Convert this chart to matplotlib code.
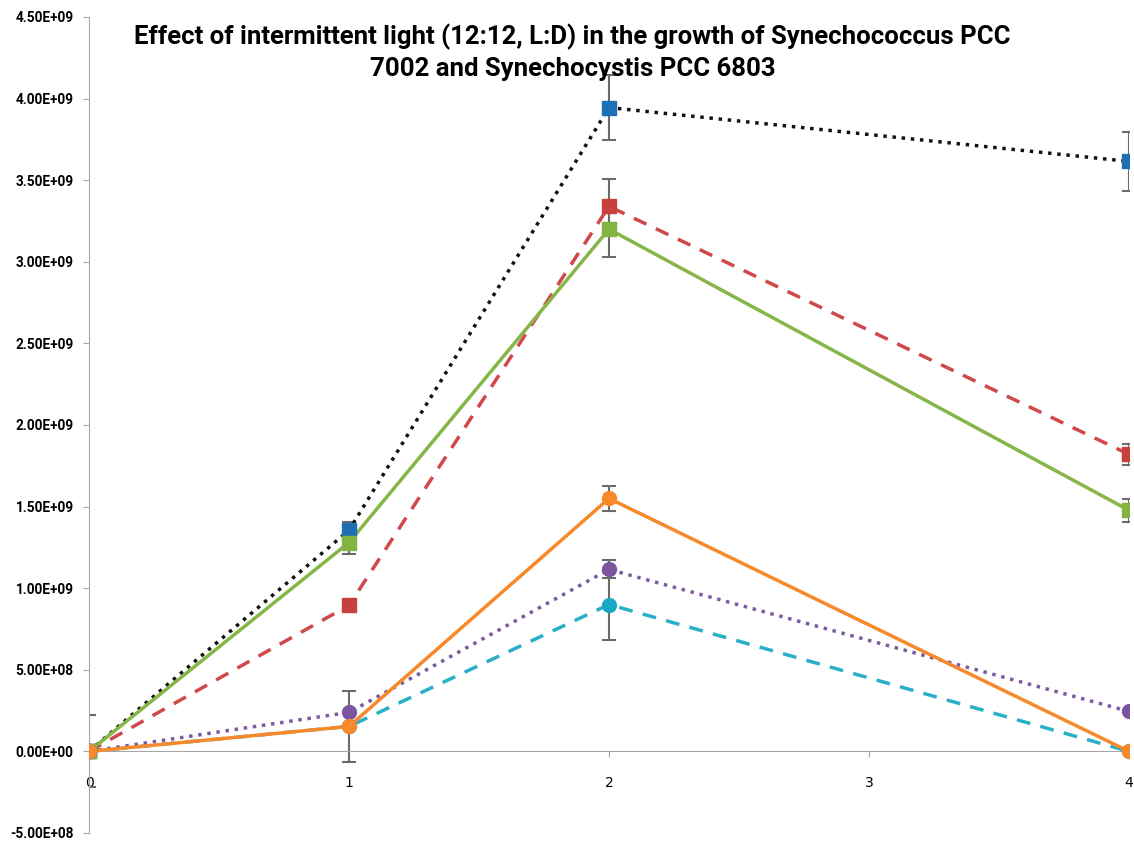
import matplotlib
matplotlib.use("Agg")
from matplotlib import pyplot as plt

days = [0, 1, 2, 4]

# series values (cells/mL) and errors
blue_y = [0.0, 1.355e9, 3.945e9, 3.615e9]
blue_err = [0.0, 0.05e9, 0.2e9, 0.18e9]
red_y = [0.0, 0.895e9, 3.34e9, 1.82e9]
red_err = [0.0, 0.0, 0.165e9, 0.065e9]
green_y = [0.0, 1.28e9, 3.2e9, 1.477e9]
green_err = [0.0, 0.07e9, 0.17e9, 0.07e9]
cyan_y = [0.0, 0.153e9, 0.9e9, 0.0]
cyan_err = [0.0, 0.0, 0.215e9, 0.0]
purple_y = [0.0, 0.239e9, 1.115e9, 0.245e9]
purple_err = [0.0, 0.0, 0.055e9, 0.0]
orange_y = [0.0, 0.153e9, 1.55e9, 0.0]
orange_err = [0.22e9, 0.22e9, 0.077e9, 0.0]

yticks = [-5e8, 0, 5e8, 1e9, 1.5e9, 2e9, 2.5e9, 3e9, 3.5e9, 4e9, 4.5e9]
ytick_labels = ["-5.00E+08", "0.00E+00", "5.00E+08", "1.00E+09", "1.50E+09",
                "2.00E+09", "2.50E+09", "3.00E+09", "3.50E+09", "4.00E+09", "4.50E+09"]

title = "Effect of intermittent light (12:12, L:D) in the growth of Synechococcus PCC\n7002 and Synechocystis PCC 6803"

fnt = ["Roboto", "DejaVu Sans"]

fig = plt.figure(figsize=(11.34, 8.44), dpi=100)
ax = fig.add_axes([89 / 1134, 11 / 844, (1129 - 89) / 1134, (833 - 17) / 844])

series = [
    (blue_y, blue_err, "#1f6fb4", "s", ":", "#111111"),
    (red_y, red_err, "#c8403e", "s", (0, (4, 3)), "#d0484a"),
    (green_y, green_err, "#82b441", "s", "-", "#86b648"),
    (cyan_y, cyan_err, "#1aa7c4", "o", (0, (4, 3)), "#2aafc8"),
    (purple_y, purple_err, "#7b55a0", "o", ":", "#7b5aa0"),
    (orange_y, orange_err, "#f7892a", "o", "-", "#f7892a"),
]

for y, err, mc, mk, ls, lc in series:
    ax.errorbar(days, y, yerr=err, fmt="none", ecolor="#6b6b6b", elinewidth=1.5,
                capsize=5, capthick=1.5, zorder=2)
    ax.plot(days, y, color=lc, linestyle=ls, linewidth=2.5, zorder=3)
    ax.plot(days, y, linestyle="none", marker=mk, markersize=10,
            markerfacecolor=mc, markeredgecolor=mc, zorder=4)

ax.set_xlim(0, 4)
ax.set_ylim(-5e8, 4.5e9)
ax.set_yticks(yticks)
ax.set_yticklabels(ytick_labels, fontfamily=fnt, fontweight="bold", fontsize=9.8)
ax.set_xticks([0, 1, 2, 3, 4])
ax.set_xticklabels(["0", "1", "2", "3", "4"], fontfamily=fnt, fontweight="bold", fontsize=12.5)

for s in ["top", "right"]:
    ax.spines[s].set_visible(False)
ax.spines["left"].set_color("#a6a6a6")
ax.spines["bottom"].set_color("#a6a6a6")
ax.spines["bottom"].set_position(("data", 0))
ax.tick_params(axis="y", length=4, color="#a6a6a6", pad=7)
ax.tick_params(axis="x", length=4, color="#a6a6a6", direction="out", pad=14)

fig.text(0.505, 0.972, title, ha="center", va="top", fontsize=18.5, fontweight="bold",
         fontfamily=fnt, linespacing=1.35)

fig.savefig("out.png", dpi=100)
